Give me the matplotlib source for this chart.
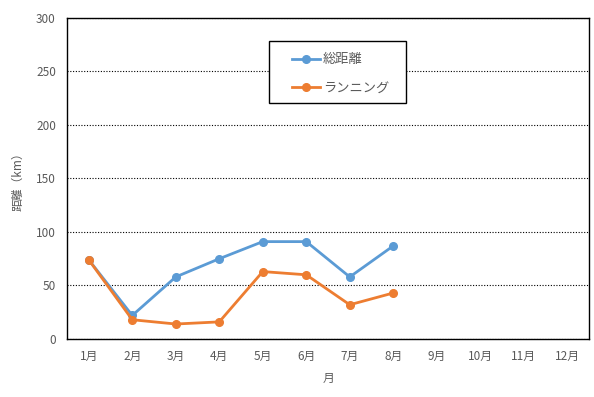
import matplotlib.pyplot as plt
from matplotlib.patches import Rectangle

plt.rcParams['font.family'] = ['Noto Sans CJK JP', 'DejaVu Sans']

months = ['1月', '2月', '3月', '4月', '5月', '6月', '7月', '8月', '9月', '10月', '11月', '12月']
total = [74, 22, 58, 75, 91, 91, 58, 87]
running = [74, 18, 14, 16, 63, 60, 32, 43]

gray = '#595959'

fig = plt.figure(figsize=(5.94, 3.97), dpi=100)
ax = fig.add_axes([0.1128, 0.1461, 0.8788, 0.8086])

x = list(range(len(months)))
ax.plot(x[:len(total)], total, color='#5B9BD5', lw=2.0, marker='o', ms=5.5, label='総距離')
ax.plot(x[:len(running)], running, color='#ED7D31', lw=2.0, marker='o', ms=5.5, label='ランニング')

ax.set_xlim(-0.5, 11.5)
ax.set_ylim(0, 300)
ax.set_xticks(x)
ax.set_xticklabels(months)
ax.set_yticks(range(0, 301, 50))
ax.tick_params(length=0, colors=gray, labelsize=8.5, pad=8)
ax.yaxis.grid(True, color='black', linestyle=(0, (1, 1.5)), lw=0.8)
ax.set_axisbelow(True)
for s in ax.spines.values():
    s.set_color('black')
    s.set_linewidth(1)

ax.set_xlabel('月', color=gray, fontsize=8.5, labelpad=6)
ax.set_ylabel('距離（km）', color=gray, fontsize=8.5, labelpad=8)

# legend frame drawn as a plain box, legend itself frameless
ax.add_patch(Rectangle((0.387, 0.735), 0.2625, 0.193, transform=ax.transAxes,
                       facecolor='white', edgecolor='black', lw=1, zorder=4))
leg = ax.legend(loc='upper left', bbox_to_anchor=(0.431, 0.89), frameon=False,
                fontsize=9.5, labelcolor=gray, borderpad=0, labelspacing=1.15,
                handlelength=2.1, handletextpad=0.25, borderaxespad=0)
leg.set_zorder(5)

fig.savefig('out.png', dpi=100)
